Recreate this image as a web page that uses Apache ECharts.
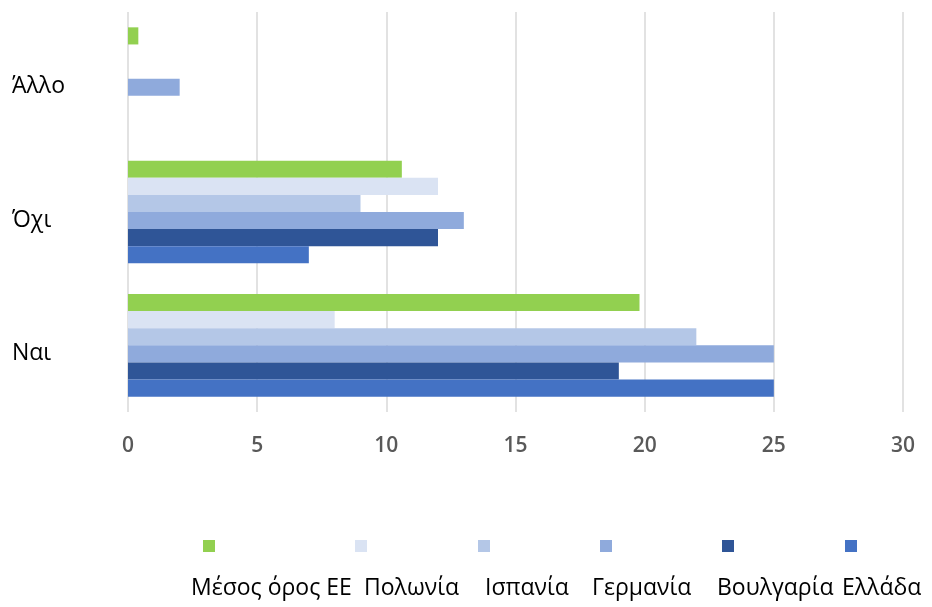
<!DOCTYPE html>
<html>
<head>
<meta charset="utf-8">
<script src="https://cdn.jsdelivr.net/npm/echarts@6/dist/echarts.min.js"></script>
<style>
  html, body { margin: 0; padding: 0; background: #fff; }
  #chart { width: 932px; height: 607px; }
</style>
</head>
<body>
<div id="chart"></div>
<script>
// Answer categories (first one sits at the bottom of the axis)
const categories = ['Ναι', 'Όχι', 'Άλλο'];

// Percentages per country
const euAvg    = [19.8, 10.6, 0.4];
const poland   = [8, 12, 0];
const spain    = [22, 9, 0];
const germany  = [25, 13, 2];
const bulgaria = [19, 12, 0];
const greece   = [25, 7, 0];

// Series listed top-to-bottom within each group (also the legend order)
const seriesNames = ['Μέσος όρος ΕΕ', 'Πολωνία', 'Ισπανία', 'Γερμανία', 'Βουλγαρία', 'Ελλάδα'];
const seriesValues = [euAvg, poland, spain, germany, bulgaria, greece];
const seriesColors = ['#92d050', '#dae3f3', '#b4c7e7', '#8faadc', '#2f5597', '#4472c4'];

// Axis tick values
const xTicks = { min: 0, max: 30, interval: 5 };

const FONT = '"Open Sans", "Noto Sans", sans-serif';

// Legend swatch and caption placement
const swatchLeft = [203, 355, 478, 600, 722, 845];
const captionLeft = [191, 364, 485, 592, 717, 842];

const legends = seriesNames.map((name, i) => ({
  data: [name],
  left: swatchLeft[i],
  top: 540,
  padding: 0,
  itemWidth: 12,
  itemHeight: 12,
  icon: 'rect',
  formatter: () => '',
  selectedMode: false
}));

const captions = seriesNames.map((name, i) => ({
  type: 'text',
  left: captionLeft[i],
  top: 577,
  style: { text: name, font: '23px ' + FONT, fill: '#000' }
}));

const chart = echarts.init(document.getElementById('chart'), null, { renderer: 'canvas' });
chart.setOption({
  animation: false,
  backgroundColor: '#fff',
  grid: { left: 128, right: 29, top: 12, bottom: 195, containLabel: false },
  legend: legends,
  graphic: captions,
  xAxis: {
    type: 'value',
    min: xTicks.min,
    max: xTicks.max,
    interval: xTicks.interval,
    axisLine: { show: false },
    axisTick: { show: false },
    splitLine: { show: true, lineStyle: { color: '#d9d9d9', width: 1.5 } },
    axisLabel: { color: '#595959', fontFamily: FONT, fontSize: 21, fontWeight: 600, margin: 24 }
  },
  yAxis: {
    type: 'category',
    data: categories,
    axisLine: { show: false },
    axisTick: { show: false },
    axisLabel: {
      align: 'left',
      verticalAlign: 'top',
      lineHeight: 16,
      margin: 116,
      color: '#000',
      fontFamily: FONT,
      fontSize: 23
    }
  },
  series: seriesNames.map((name, i) => ({
    type: 'bar',
    name: name,
    data: seriesValues[i],
    barGap: '0%',
    barCategoryGap: '23%',
    itemStyle: { color: seriesColors[i] }
  }))
});
</script>
</body>
</html>
